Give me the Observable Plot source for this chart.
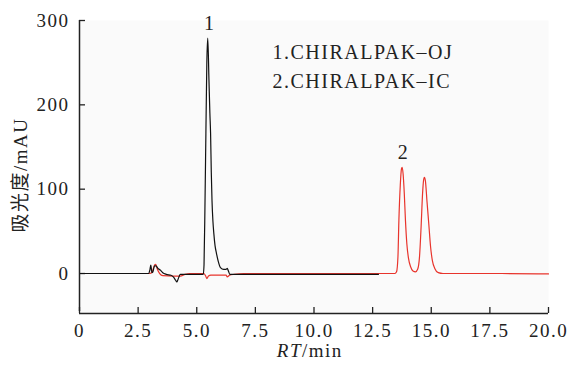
<!DOCTYPE html>
<html>
<head>
<meta charset="utf-8">
<script src="https://cdn.jsdelivr.net/npm/d3@7"></script>
<script src="https://cdn.jsdelivr.net/npm/@observablehq/plot@0.6"></script>
<style>
  html, body { margin: 0; padding: 0; background: #fff; }
  #chart svg, #chart svg text {
    font-family: "Liberation Serif", "Times New Roman", Times, serif, "Noto Sans CJK SC" !important;
  }
  #chart svg text { letter-spacing: 1.5px; }
</style>
</head>
<body>
<div id="chart"></div>
<script>
// ---- data ----
// CHIRALPAK-OJ trace (black)
const ojTime  = [0, 2.95, 3.0, 3.04, 3.09, 3.13, 3.2, 3.26, 3.35, 3.45, 3.55, 3.7, 3.9, 4.0, 4.1, 4.15, 4.2, 4.3, 4.5, 5.0, 5.28, 5.31, 5.35, 5.39, 5.43, 5.47, 5.52, 5.56, 5.59, 5.62, 5.65, 5.69, 5.73, 5.78, 5.84, 5.92, 6.01, 6.15, 6.25, 6.3, 6.35, 6.41, 6.6, 8, 10, 12.75];
const ojValue = [0, 0, 4, 10, 1, 2, 9, 9, 6, 4, 1, -1, -2, -4, -8, -10, -7, -1, -1, -1, -1, 10, 80, 166, 250, 279, 230, 190, 166, 120, 87, 62, 47, 33, 24, 14, 7, 5, 5, 6, 3, -1, -1, -1, -1, -1];
// CHIRALPAK-IC trace (red)
const icTime  = [0, 2.3, 3.0, 3.1, 3.2, 3.25, 3.32, 3.42, 3.55, 4.0, 4.3, 4.5, 4.7, 5.3, 5.38, 5.43, 5.5, 5.6, 6.0, 6.25, 6.3, 6.4, 6.6, 7, 10, 13.45, 13.52, 13.58, 13.62, 13.68, 13.73, 13.76, 13.8, 13.85, 13.9, 13.96, 14.03, 14.12, 14.22, 14.33, 14.42, 14.5, 14.57, 14.63, 14.68, 14.71, 14.75, 14.82, 14.9, 14.97, 15.05, 15.15, 15.3, 15.5, 17, 18, 20];
const icValue = [0, 0, 0, 2, 10, 11, 5, 0, -2.5, -3, -3, -1, 0, 0, -3, -6, -3, -2, -2, -2, -4, -2, -1, 0, 0, 0, 2, 20, 63, 105, 124, 126, 118, 95, 63, 35, 18, 8, 3, 2, 5, 20, 57, 95, 112, 114, 110, 85, 57, 32, 15, 6, 1, 0, 0, 0, -0.5];
// axes
const xTicks = [0, 2.5, 5, 7.5, 10, 12.5, 15, 17.5, 20];
const yTicks = [0, 100, 200, 300];
const xDomain = [0, 20];
const yDomain = [-47.4, 300];
// annotations
const peakLabels = [{t: 5.47, v: 279, label: "1"}, {t: 13.73, v: 126, label: "2"}];
const legendLines = ["1.CHIRALPAK\u2013OJ", "2.CHIRALPAK\u2013IC"];
const yLabel = "吸光度/mAU";
const xLabelItalic = "RT";
const xLabelRest = "/min";

const oj = ojTime.map((t, i) => ({t, v: ojValue[i]}));
const ic = icTime.map((t, i) => ({t, v: icValue[i]}));

const W = 570, H = 371;
const mL = 79, mR = 22, mT = 20, mB = 58;
const innerH = H - mT - mB;
const innerW = W - mL - mR;
const tickLen = 6;

const chart = Plot.plot({
  width: W,
  height: H,
  marginLeft: mL,
  marginRight: mR,
  marginTop: mT,
  marginBottom: mB,
  style: {fontSize: "19px", color: "#222", background: "#fff", overflow: "visible"},
  x: {domain: xDomain, label: null},
  y: {domain: yDomain, label: null},
  marks: [
    Plot.frame({fill: "#fafafa", stroke: null}),
    Plot.axisX({ticks: xTicks, tickFormat: d => d === 0 ? "0" : d.toFixed(1), tickSize: 0, tickPadding: 10, label: null, fontSize: 19}),
    Plot.axisY({ticks: yTicks, tickFormat: d => String(d), tickSize: 0, tickPadding: 10, label: null, fontSize: 19}),
    // inward tick marks
    Plot.tickX(xTicks, {x: d => d, insetTop: innerH - tickLen, stroke: "#222", strokeWidth: 1.3}),
    Plot.tickY(yTicks, {y: d => d, insetRight: innerW - tickLen, stroke: "#222", strokeWidth: 1.3}),
    // traces
    Plot.line(ic, {x: "t", y: "v", stroke: "#e8342c", strokeWidth: 1.2, curve: "monotone-x"}),
    Plot.line(oj, {x: "t", y: "v", stroke: "#111", strokeWidth: 1.2, curve: "monotone-x"}),
    // axis lines
    Plot.ruleX([xDomain[0]], {stroke: "#222", strokeWidth: 1.5, y1: yDomain[0], y2: yDomain[1], insetTop: -2}),
    Plot.ruleY([yDomain[0]], {stroke: "#222", strokeWidth: 1.5, x1: xDomain[0], x2: xDomain[1]}),
    // peak labels
    Plot.text(peakLabels, {x: "t", y: "v", text: "label", lineAnchor: "bottom", dy: -8, dx: 2, fontSize: 20, fill: "#222"}),
    // legend text
    Plot.text([legendLines[0]], {text: d => d, frameAnchor: "top-left", dx: 193, dy: 32, fontSize: 20, fill: "#222", textAnchor: "start", lineAnchor: "middle"}),
    Plot.text([legendLines[1]], {text: d => d, frameAnchor: "top-left", dx: 193, dy: 61.5, fontSize: 20, fill: "#222", textAnchor: "start", lineAnchor: "middle"}),
    // y label
    Plot.text([yLabel], {text: d => d, frameAnchor: "left", textAnchor: "middle", dx: -59, dy: 8, rotate: -90, fontSize: 19, fill: "#222"}),
    // x label
    Plot.text([xLabelItalic], {text: d => d, frameAnchor: "bottom", dx: -12, dy: 37, textAnchor: "end", lineAnchor: "middle", fontStyle: "italic", fontSize: 19, fill: "#222"}),
    Plot.text([xLabelRest], {text: d => d, frameAnchor: "bottom", dx: -12, dy: 37, textAnchor: "start", lineAnchor: "middle", fontSize: 19, fill: "#222"})
  ]
});

document.getElementById("chart").appendChild(chart);
</script>
</body>
</html>
